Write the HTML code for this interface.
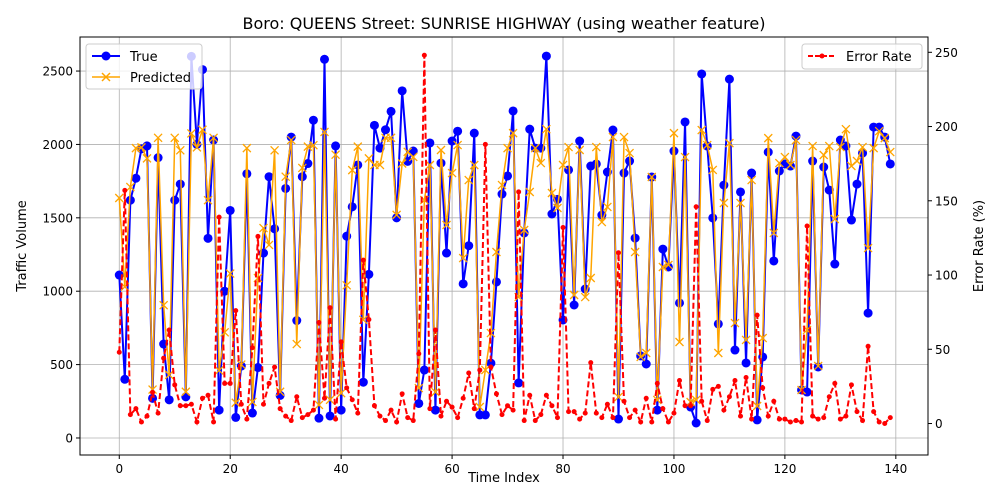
<!DOCTYPE html>
<html><head><meta charset="utf-8"><style>
html,body{margin:0;padding:0;background:#fff;}
svg{display:block;font-family:"DejaVu Sans","Liberation Sans",sans-serif;}
</style></head><body>
<svg id="chart" width="1000" height="500" viewBox="0 0 1000 500" xmlns="http://www.w3.org/2000/svg">
<rect width="1000" height="500" fill="#fff"/>
<g id="grid"></g>
<g id="series"></g>
<rect x="80" y="37" width="848" height="418" fill="none" stroke="#000" stroke-width="1"/>
<g id="axes"></g>
<text x="504" y="29" font-size="16" text-anchor="middle">Boro: QUEENS Street: SUNRISE HIGHWAY (using weather feature)</text>
<text x="504" y="482" font-size="13" text-anchor="middle">Time Index</text>
<text transform="translate(26,246) rotate(-90)" font-size="13" text-anchor="middle">Traffic Volume</text>
<text transform="translate(983,246) rotate(-90)" font-size="13" text-anchor="middle">Error Rate (%)</text>
<g>
<rect x="86" y="44" width="116" height="45" rx="3" fill="#fff" fill-opacity="0.8" stroke="#ccc"/>
<g><line x1="92" y1="56" x2="120" y2="56" stroke="#0000ff" stroke-width="2"/><circle cx="106" cy="56" r="4.5" fill="#0000ff"/><text x="130" y="61" font-size="13">True</text></g>
<g><line x1="92" y1="77" x2="120" y2="77" stroke="#ffa500" stroke-width="1.5"/><path d="M102,73L110,81M110,73L102,81" stroke="#ffa500" stroke-width="1.5"/><text x="130" y="82" font-size="13">Predicted</text></g>
</g>
<g>
<rect x="802" y="44" width="120" height="25" rx="3" fill="#fff" fill-opacity="0.8" stroke="#ccc"/>
<g><line x1="808" y1="56" x2="836" y2="56" stroke="#ff0000" stroke-width="2" stroke-dasharray="5,2"/><circle cx="822" cy="56" r="2.5" fill="#ff0000"/><text x="846" y="61" font-size="13">Error Rate</text></g>
</g>
</svg>
<script>
const trueVals=[1110,400,1620,1770,1970,1990,270,1910,640,260,1620,1730,280,2600,2000,2510,1360,2030,190,1000,1550,140,490,1800,170,480,1260,1780,1425,290,1700,2050,800,1780,1870,2165,135,2580,150,1990,190,1375,1575,1860,380,1115,2130,1975,2100,2225,1500,2365,1885,1955,235,463,2010,190,1873,1260,2023,2090,1050,1310,2077,157,157,510,1063,1662,1785,2228,375,1397,2104,1975,1975,2602,1526,1626,804,1826,906,2023,1015,1853,1867,1519,1812,2098,129,1805,1887,1362,559,504,1778,190,1287,1165,1955,920,2153,211,102,2480,1989,1499,777,1723,2445,599,1676,511,1805,123,552,1948,1206,1819,1867,1853,2057,327,313,1887,484,1846,1689,1185,2030,1989,1485,1730,1941,851,2118,2118,2050,1867];
const predVals=[1635,1030,1710,1975,1980,1905,330,2045,905,430,2045,1960,315,2075,1980,2100,1620,2045,460,720,1120,240,500,1975,245,1090,1430,1315,1960,315,1780,2030,640,1840,1985,1995,225,2085,260,1930,305,1040,1825,1985,805,1905,1860,1860,2045,2045,1520,1870,1950,1915,340,1621,1860,313,1962,1451,1805,1996,1226,1757,1860,211,463,715,1267,1723,1975,2077,960,1417,1676,1975,1873,2104,1669,1567,1860,1982,974,1962,960,1090,1982,1471,1574,2050,279,2050,1941,1267,552,579,1778,259,1165,1179,2077,654,1914,245,259,2098,1996,1826,579,1601,2009,783,1601,668,1757,218,681,2043,1397,1873,1914,1860,2030,327,736,1989,491,1928,1989,1492,1982,2104,1853,1887,1982,1294,1975,2090,2043,1948];
const errVals=[48,157,6,10,1,5,21,7,44,63,26,12,12,13,1,17,19,1,139,27,27,76,13,3,51,126,13,27,38,10,5,2,18,4,6,9,68,17,78,3,55,24,16,7,110,70,12,5,2,9,1,20,4,2,47,248,10,63,5,15,11,4,17,34,10,36,188,38,20,6,12,9,156,2,19,2,6,19,12,4,132,8,8,3,7,41,7,4,13,4,115,15,4,9,1,17,1,27,10,1,7,29,12,12,146,15,2,23,25,9,18,29,5,31,3,73,24,5,15,3,3,1,2,1,133,5,3,4,18,27,3,5,26,8,2,52,8,1,0,4];
const xTicks=[0,20,40,60,80,100,120,140];
const yTicks=[0,500,1000,1500,2000,2500];
const y2Ticks=[0,50,100,150,200,250];

const NS="http://www.w3.org/2000/svg";
const L=80,R=928,T=37,B=455;
const xMin=-7.08,xMax=145.8,yMin=-116,yMax=2732,y2Min=-21.2,y2Max=260.3;
const xs=v=>L+(v-xMin)/(xMax-xMin)*(R-L);
const ys=v=>B-(v-yMin)/(yMax-yMin)*(B-T);
const y2s=v=>B-(v-y2Min)/(y2Max-y2Min)*(B-T);
function mk(tag,attrs,parent){const e=document.createElementNS(NS,tag);for(const k in attrs)e.setAttribute(k,attrs[k]);parent.appendChild(e);return e;}
const grid=document.getElementById('grid'),axes=document.getElementById('axes'),series=document.getElementById('series');

xTicks.forEach(t=>{
  const x=xs(t);
  const g=mk('line',{x1:x,x2:x,y1:T,y2:B,stroke:'#b0b0b0','stroke-width':0.8},grid);
  
  
  mk('line',{x1:x,x2:x,y1:B,y2:B+4,stroke:'#000'},axes);
  const tx=mk('text',{x:x,y:B+18,'font-size':12,'text-anchor':'middle'},axes);
  tx.textContent=t;
  
  
});
yTicks.forEach(t=>{
  const y=ys(t);
  const g=mk('line',{x1:L,x2:R,y1:y,y2:y,stroke:'#b0b0b0','stroke-width':0.8},grid);
  
  
  mk('line',{x1:L-4,x2:L,y1:y,y2:y,stroke:'#000'},axes);
  const tx=mk('text',{x:L-7,y:y+4.5,'font-size':12,'text-anchor':'end'},axes);
  tx.textContent=t;
  
  
});
y2Ticks.forEach(t=>{
  const y=y2s(t);
  mk('line',{x1:R,x2:R+4,y1:y,y2:y,stroke:'#000'},axes);
  const tx=mk('text',{x:R+7,y:y+4.5,'font-size':12,'text-anchor':'start'},axes);
  tx.textContent=t;
  
  
});

function pts(arr,sc){return arr.map((v,i)=>xs(i).toFixed(2)+','+sc(v).toFixed(2)).join(' ');}
const lt=mk('polyline',{points:pts(trueVals,ys),fill:'none',stroke:'#0000ff','stroke-width':2,'stroke-linejoin':'round'},series);


trueVals.forEach((v,i)=>{
  const c=mk('circle',{cx:xs(i),cy:ys(v),r:4.5,fill:'#0000ff'},series);
  
  
});
const lp=mk('polyline',{points:pts(predVals,ys),fill:'none',stroke:'#ffa500','stroke-width':1.5,'stroke-linejoin':'round'},series);


predVals.forEach((v,i)=>{
  const x=xs(i),y=ys(v);
  const m=mk('path',{d:`M${x-4},${y-4}L${x+4},${y+4}M${x+4},${y-4}L${x-4},${y+4}`,stroke:'#ffa500','stroke-width':1.3},series);
  
  
});
const le=mk('polyline',{points:pts(errVals,y2s),fill:'none',stroke:'#ff0000','stroke-width':2,'stroke-dasharray':'6,3'},series);


errVals.forEach((v,i)=>{
  const c=mk('circle',{cx:xs(i),cy:y2s(v),r:2.5,fill:'#ff0000'},series);
  
  
});
</script>
</body></html>
